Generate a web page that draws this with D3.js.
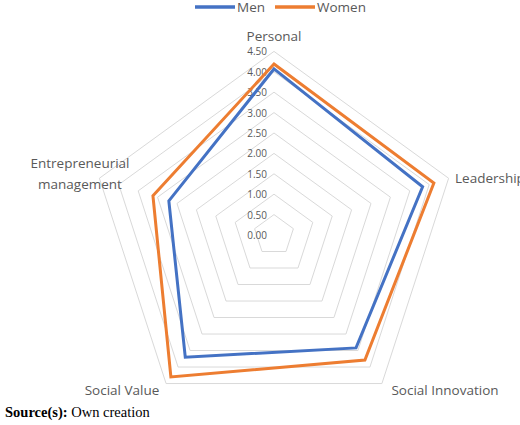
<!DOCTYPE html><html><head><meta charset="utf-8"><script src="https://cdn.jsdelivr.net/npm/d3@7"></script>
<style>body{margin:0;background:#fff}</style></head><body><svg id="c" width="520" height="425"></svg><script>
const axes=["Personal","Leadership","Social Innovation","Social Value","Entrepreneurial management"];
const men=[4.07,3.83,3.42,3.70,2.71];
const women=[4.19,4.12,3.79,4.30,3.12];
const ticks=[0,0.5,1,1.5,2,2.5,3,3.5,4,4.5];
const seriesNames=["Men","Women"], colors=["#4472C4","#ED7D31"];
const svg=d3.select("#c"), cx=274, cy=235;
const r=d3.scaleLinear().domain([0,4.5]).range([0,183.6]);
const ang=i=>i*2*Math.PI/5;
const pt=(i,v)=>[cx+r(v)*Math.sin(ang(i)),cy-r(v)*Math.cos(ang(i))];
const g=svg.append("g");
ticks.slice(1).forEach(t=>g.append("polygon").attr("points",axes.map((a,i)=>pt(i,t).join(",")).join(" ")).attr("fill","none").attr("stroke","#d9d9d9").attr("stroke-width",1));
ticks.forEach(t=>g.append("text").attr("x",cx-7).attr("y",cy-r(t)+4).attr("text-anchor","end").attr("font-family","Open Sans, sans-serif").attr("font-size",10).attr("fill","#595959").text(t.toFixed(2)));
[men,women].forEach((d,k)=>g.append("polygon").attr("points",d.map((v,i)=>pt(i,v).join(",")).join(" ")).attr("fill","none").attr("stroke",colors[k]).attr("stroke-width",3).attr("stroke-linejoin","miter"));
const fs=13.5;
const lab=[[274,41,"middle"],[455,183,"start"],[445,395,"middle"],[122,395,"middle"]];
const f="Open Sans, sans-serif";
lab.forEach((l,i)=>svg.append("text").attr("x",l[0]).attr("y",l[1]).attr("text-anchor",l[2]).attr("font-family",f).attr("font-size",fs).attr("fill","#595959").text(axes[i]));
const em=svg.append("text").attr("x",80).attr("y",168).attr("text-anchor","middle").attr("font-family",f).attr("font-size",fs).attr("fill","#595959");
em.append("tspan").attr("x",80).text("Entrepreneurial");em.append("tspan").attr("x",80).attr("dy",21).text("management");
const lx=[195,275];
seriesNames.forEach((s,k)=>{svg.append("line").attr("x1",lx[k]).attr("x2",lx[k]+40).attr("y1",7).attr("y2",7).attr("stroke",colors[k]).attr("stroke-width",3.5);
svg.append("text").attr("x",lx[k]+42).attr("y",12).attr("font-family",f).attr("font-size",fs).attr("fill","#595959").text(s);});
const src=svg.append("text").attr("x",5).attr("y",417).attr("font-family","Liberation Serif, serif").attr("font-size",14.5);
src.append("tspan").attr("font-weight","bold").text("Source(s):");src.append("tspan").text(" Own creation");
</script></body></html>
